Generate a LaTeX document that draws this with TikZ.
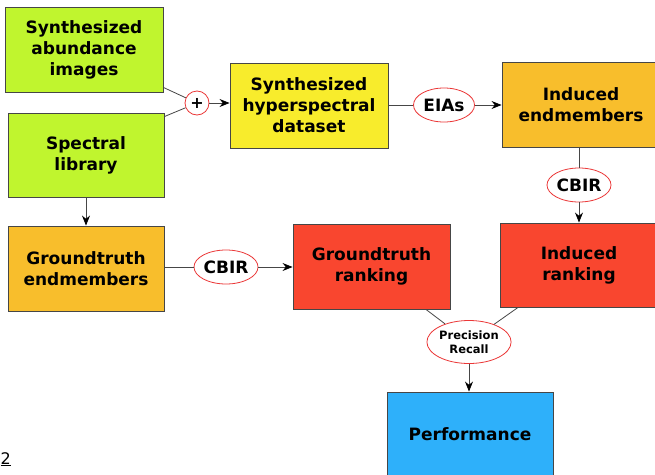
\documentclass[tikz,border=0pt]{standalone}
\usepackage{fontspec}
\setmainfont{DejaVu Sans}
\usetikzlibrary{shapes.geometric,arrows.meta}
\definecolor{cgreen}{RGB}{192,245,46}
\definecolor{cyellow}{RGB}{248,236,44}
\definecolor{corange}{RGB}{248,190,44}
\definecolor{cred}{RGB}{249,70,47}
\definecolor{cblue}{RGB}{46,176,250}
\definecolor{cborder}{RGB}{70,70,70}
\definecolor{cring}{RGB}{235,55,55}
\tikzset{
  box/.style={draw=cborder, line width=0.9pt, minimum width=158pt, minimum height=85pt,
    align=center, font=\fontsize{17}{21}\selectfont\bfseries, inner sep=0pt},
  op/.style={ellipse, draw=cring, fill=white, line width=0.8pt, inner sep=0pt,
    font=\fontsize{17}{21}\selectfont\bfseries},
  link/.style={draw=cborder, line width=0.8pt},
  arr/.style={link, -{Stealth[length=10pt,width=8pt,color=black]}}
}
\begin{document}
\begin{tikzpicture}[x=1pt,y=-1pt]
\useasboundingbox (0,0) rectangle (655,474);
\node[box, fill=cgreen, minimum width=158pt] (sai) at (84,49.5) {Synthesized\\abundance\\images};
\node[box, fill=cgreen, minimum width=156pt, minimum height=84pt] (spec) at (86,155) {Spectral\\library};
\node[circle, draw=cring, fill=white, line width=0.8pt, minimum size=24pt, inner sep=0pt,
  font=\fontsize{16}{16}\selectfont\bfseries] (plus) at (197,103) {+};
\node[box, fill=cyellow] (shd) at (309,105.5) {Synthesized\\hyperspectral\\dataset};
\node[op, minimum width=61pt, minimum height=34pt] (eias) at (444,105) {EIAs};
\node[box, fill=corange] (ie) at (581,105) {Induced\\endmembers};
\node[op, minimum width=64pt, minimum height=34pt] (cbirB) at (579,185) {CBIR};
\node[box, fill=cred, minimum height=84pt] (ir) at (579,265) {Induced\\ranking};
\node[box, fill=cred, minimum width=157pt] (gr) at (371.5,266.5) {Groundtruth\\ranking};
\node[box, fill=corange, minimum width=156pt] (ge) at (86,268.5) {Groundtruth\\endmembers};
\node[op, minimum width=64pt, minimum height=34pt] (cbirA) at (226,267) {CBIR};
\node[op, minimum width=81pt, minimum height=43pt, font=\fontsize{11.5}{14}\selectfont\bfseries, align=center] (pr) at (469,342) {Precision\\Recall};
\node[box, fill=cblue, minimum width=166pt] (perf) at (470,434.5) {Performance};
\node[anchor=base west, font=\fontsize{16}{16}\selectfont, inner sep=0pt] (two) at (0.5,464) {\underline{2}};
\draw[link] ([yshift=5pt]sai.south east) -- (plus);
\draw[link] ([yshift=-4pt]spec.north east) -- (plus);
\draw[arr] (plus) -- (shd.west |- plus);
\draw[link] (shd.east |- eias) -- (eias);
\draw[arr] (eias) -- (ie.west |- eias);
\draw[link] (ie.south -| cbirB) -- (cbirB);
\draw[arr] (cbirB) -- (ir.north);
\draw[arr] (spec.south) -- (ge.north);
\draw[link] (ge.east |- cbirA) -- (cbirA);
\draw[arr] (cbirA) -- (gr.west |- cbirA);
\draw[link] ([xshift=54.5pt]gr.south) -- (pr);
\draw[link] ([xshift=-61pt]ir.south) -- (pr);
\draw[arr] (pr) -- (perf.north -| pr);
\end{tikzpicture}
\end{document}
